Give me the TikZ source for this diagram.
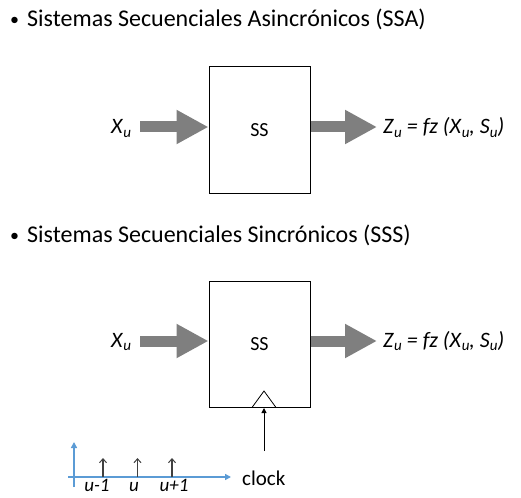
\documentclass[tikz,border=0pt]{standalone}
\usepackage{fontspec}
\setmainfont{Carlito}
\usetikzlibrary{arrows.meta}
\definecolor{arrgray}{RGB}{127,127,127}
\definecolor{axblue}{RGB}{91,155,213}
\newcommand{\sbu}[1]{\raisebox{-0.3ex}{\fontsize{15}{15}\selectfont\textit{#1}}}
\begin{document}
\begin{tikzpicture}[x=1pt,y=-1pt,
  sysbox/.style={draw, line width=1pt, minimum width=101pt, minimum height=126pt, inner sep=0pt, font=\fontsize{20}{20}\selectfont},
  bigarrow/.style={draw=arrgray, line width=11pt, -{Triangle[length=32pt,width=32pt]}, arrgray},
  lbl/.style={inner sep=0pt, anchor=base west, font=\fontsize{22}{22}\selectfont},
  title/.style={inner sep=0pt, anchor=base west, font=\fontsize{24}{24}\selectfont},
  axis/.style={draw=axblue, line width=1.5pt, -{Triangle[length=6pt,width=6pt]}},
  tick/.style={draw=black!75, line width=1.2pt, -{Straight Barb[length=4pt,width=7pt,line width=1pt]}},
  ulbl/.style={inner sep=0pt, anchor=base, font=\fontsize{19}{19}\selectfont\itshape}
]
\useasboundingbox (0,0) rectangle (521,497);

% titles
\node[title, font=\fontsize{18}{18}\selectfont] (b1) at (10,26) {\textbullet};
\node[title] (t1) at (27,27) {Sistemas Secuenciales Asincrónicos (SSA)};
\node[title, font=\fontsize{18}{18}\selectfont] (b2) at (10,241) {\textbullet};
\node[title] (t2) at (27,242) {Sistemas Secuenciales Sincrónicos (SSS)};

% asynchronous
\node[sysbox] (ss1) at (259.5,130) {SS};
\node[lbl] (x1) at (111,134) {\textit{X}\sbu{u}};
\node[lbl] (z1) at (383,134) {\textit{Z}\sbu{u} \textit{= fz (X}\sbu{u}\textit{, S}\sbu{u}\textit{)}};
\coordinate (x1s) at (140,127);
\coordinate (z1e) at (377,127);
\draw[bigarrow] (x1s) -- (ss1.west |- x1s);
\draw[bigarrow] (ss1.east |- z1e) -- (z1e);

% synchronous
\node[sysbox] (ss2) at (259.5,344.5) {SS};
\node[lbl] (x2) at (111,347) {\textit{X}\sbu{u}};
\node[lbl] (z2) at (383,347) {\textit{Z}\sbu{u} \textit{= fz (X}\sbu{u}\textit{, S}\sbu{u}\textit{)}};
\coordinate (x2s) at (140,341);
\coordinate (z2e) at (377,341);
\draw[bigarrow] (x2s) -- (ss2.west |- x2s);
\draw[bigarrow] (ss2.east |- z2e) -- (z2e);

% clock triangle
\coordinate (trl) at (252,407.5);
\coordinate (trr) at (276,407.5);
\coordinate (trt) at (264,391);
\draw[line width=0.8pt] (trl) -- (trt) -- (trr);

% clock arrow
\coordinate (ck0) at (264,451);
\draw[line width=1pt, -{Triangle[length=5pt,width=5pt]}] (ck0) -- (ss2.south -| ck0);

% timeline
\coordinate (ho) at (68,477);
\coordinate (he) at (231,477);
\coordinate (vo) at (74,487);
\coordinate (ve) at (74,442);
\draw[axis] (ho) -- (he);
\draw[axis] (vo) -- (ve);
\node[lbl, font=\fontsize{21}{21}\selectfont] (clk) at (242,485) {clock};
\foreach \xx/\lx/\nm/\tx in {103/97/a/u-1, 137.5/134/b/u, 172/174/c/u+1} {
  \coordinate (p\nm) at (\xx,477);
  \coordinate (q\nm) at (\xx,458);
  \draw[tick] (p\nm) -- (q\nm);
  \node[ulbl] (l\nm) at (\lx,491.5) {\tx};
}
\end{tikzpicture}
\end{document}
